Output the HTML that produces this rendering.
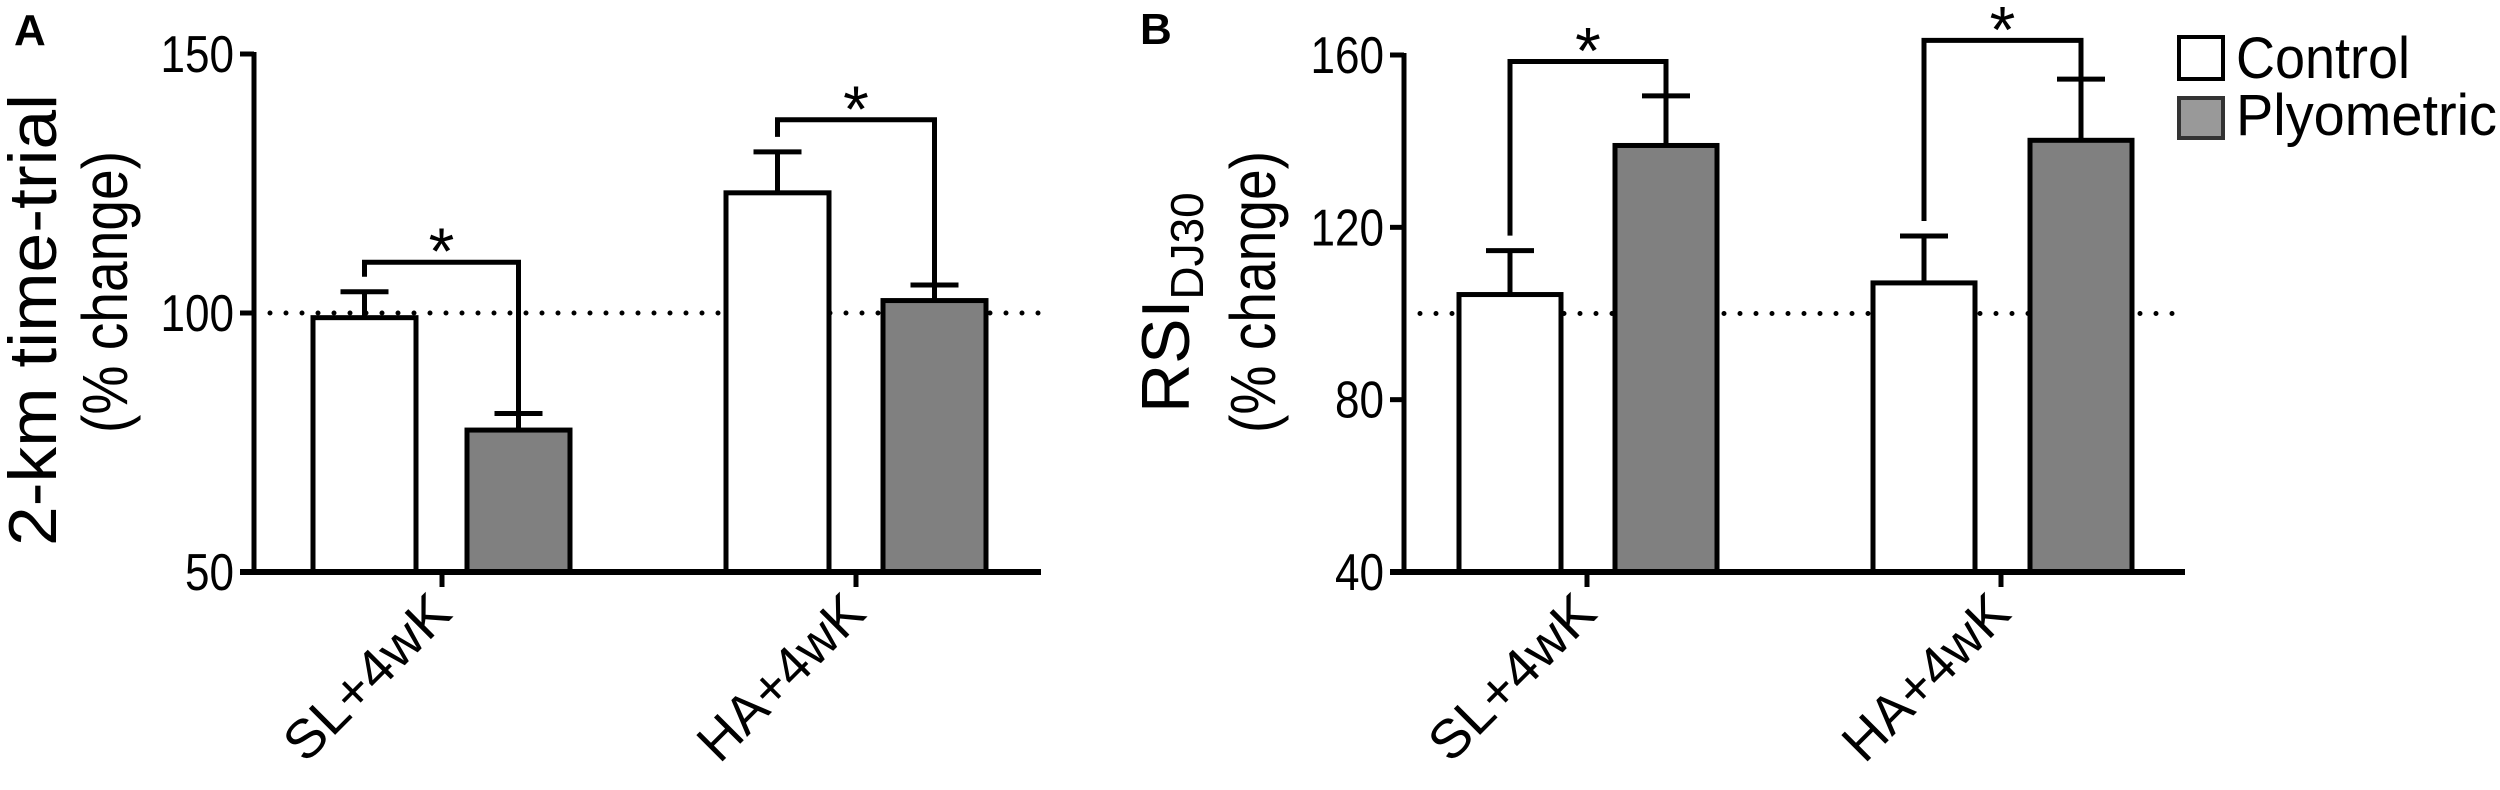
<!DOCTYPE html>
<html><head><meta charset="utf-8"><style>
html,body{margin:0;padding:0;background:#fff;}
svg{display:block;font-family:"Liberation Sans",sans-serif;}
</style></head><body>
<svg id="chart" width="2500" height="790" viewBox="0 0 2500 790" xmlns="http://www.w3.org/2000/svg">
<text x="14" y="45" font-size="44" font-weight="bold">A</text>
<text x="1140" y="44" font-size="44" font-weight="bold">B</text>
<text transform="translate(56,320) rotate(-90)" text-anchor="middle" font-size="68" textLength="452" lengthAdjust="spacingAndGlyphs">2-km time-trial</text>
<text transform="translate(127,292) rotate(-90)" text-anchor="middle" font-size="64" textLength="282" lengthAdjust="spacingAndGlyphs">(% change)</text>
<text transform="translate(1189,413) rotate(-90)" font-size="68">RSI<tspan font-size="46" dy="14">DJ30</tspan></text>
<text transform="translate(1275,292) rotate(-90)" text-anchor="middle" font-size="64" textLength="282" lengthAdjust="spacingAndGlyphs">(% change)</text>
<g>
<rect x="2179" y="37" width="44" height="42" fill="#fff" stroke="#000" stroke-width="4"/>
<text x="2236" y="78" font-size="58" textLength="174" lengthAdjust="spacingAndGlyphs">Control</text>
<rect x="2179" y="98" width="44" height="40" fill="#999" stroke="#333" stroke-width="4"/>
<text x="2236" y="135" font-size="58" textLength="261" lengthAdjust="spacingAndGlyphs">Plyometric</text>
</g>
<g id="pa"></g><g id="pb"></g>
</svg>
<script>
const categories = ["SL+4wK", "HA+4wK"];
const aControl = [99.1, 123.2];
const aControlErr = [5.0, 7.9];
const aPlyo = [77.4, 102.4];
const aPlyoErr = [3.2, 3.0];
const aTicks = [50, 100, 150];
const aBracket = [109.8, 137.3];
const bControl = [104.4, 107.1];
const bControlErr = [10.2, 10.9];
const bPlyo = [139.0, 140.2];
const bPlyoErr = [11.5, 14.2];
const bTicks = [40, 80, 120, 160];
const bBracket = [158.5, 163.4];

const NS = "http://www.w3.org/2000/svg";
function mk(parent, tag, attrs) {
  const e = document.createElementNS(NS, tag);
  for (const k in attrs) e.setAttribute(k, attrs[k]);
  parent.appendChild(e);
  return e;
}
function panel(g, cfg) {
  const y = v => cfg.y0 - (v - cfg.vmin) / (cfg.vmax - cfg.vmin) * (cfg.y0 - cfg.y1);
  const ax = cfg.ax;
  const ref = mk(g, "line", {x1: ax, x2: cfg.xend, y1: y(100), y2: y(100), stroke: "#000", "stroke-width": 5, "stroke-dasharray": "0 16", "stroke-linecap": "round"});
  
  
  categories.forEach((c, i) => {
    const cx = cfg.ctrlX[i], px = cfg.plyoX[i], w = cfg.bw;
    const series = [[cx, cfg.ctrl[i], cfg.ctrlErr[i], "#fff", "control"], [px, cfg.plyo[i], cfg.plyoErr[i], "#808080", "plyometric"]];
    series.forEach(([x, v, e, fill, nm]) => {
      const mid = x + w / 2;
      const el = mk(g, "line", {x1: mid, x2: mid, y1: y(v), y2: y(v + e), stroke: "#000", "stroke-width": 5});
      
      
      const cap = mk(g, "line", {x1: mid - 24, x2: mid + 24, y1: y(v + e), y2: y(v + e), stroke: "#000", "stroke-width": 5});
      
      
      const r = mk(g, "rect", {x: x, y: y(v), width: w, height: y(cfg.vmin) - y(v), fill: fill, stroke: "#000", "stroke-width": 5});
      
      
    });
    const bl = cx + w / 2, br = px + w / 2, by = y(cfg.bracket[i]);
    const lb = y(cfg.ctrl[i] + cfg.ctrlErr[i]) - 15, rb = y(cfg.plyo[i] + cfg.plyoErr[i]) - 2;
    const pl = mk(g, "polyline", {points: `${bl},${lb} ${bl},${by} ${br},${by} ${br},${rb}`, fill: "none", stroke: "#000", "stroke-width": 5});
    
    
    const st = mk(g, "text", {x: (bl + br) / 2, y: by + 12, "text-anchor": "middle", "font-size": 66});
    st.textContent = "*";
    
    
    const tx = cfg.tickX[i];
    const t = mk(g, "line", {x1: tx, x2: tx, y1: cfg.y0, y2: cfg.y0 + 15, stroke: "#000", "stroke-width": 5});
    
    
    const lab = mk(g, "text", {transform: `translate(${tx + 12},${cfg.y0 + 44}) rotate(-45)`, "text-anchor": "end", "font-size": 54, textLength: 210, lengthAdjust: "spacingAndGlyphs"});
    lab.textContent = c;
    
    
  });
  const ya = mk(g, "line", {x1: ax, x2: ax, y1: y(cfg.vmax) - 2, y2: y(cfg.vmin) + 2, stroke: "#000", "stroke-width": 5});
  
  
  const xa = mk(g, "line", {x1: ax - 14, x2: cfg.xend, y1: cfg.y0, y2: cfg.y0, stroke: "#000", "stroke-width": 6});
  
  
  cfg.ticks.forEach(v => {
    const tk = mk(g, "line", {x1: ax - 14, x2: ax, y1: y(v), y2: y(v), stroke: "#000", "stroke-width": 5});
    
    
    const s = String(v);
    const tl = mk(g, "text", {x: ax - 20, y: y(v) + 18, "text-anchor": "end", "font-size": 52, textLength: s.length * 24.5, lengthAdjust: "spacingAndGlyphs"});
    tl.textContent = s;
    
    
  });
}
const pa = document.getElementById("pa");


panel(pa, {ax: 254, xend: 1041, y0: 572, y1: 54, vmin: 50, vmax: 150, bw: 103,
  ctrlX: [313, 726], plyoX: [467, 883], tickX: [442, 856],
  ctrl: aControl, ctrlErr: aControlErr, plyo: aPlyo, plyoErr: aPlyoErr, ticks: aTicks, bracket: aBracket});
const pb = document.getElementById("pb");


panel(pb, {ax: 1404, xend: 2185, y0: 572, y1: 55, vmin: 40, vmax: 160, bw: 102,
  ctrlX: [1459, 1873], plyoX: [1615, 2030], tickX: [1587, 2001],
  ctrl: bControl, ctrlErr: bControlErr, plyo: bPlyo, plyoErr: bPlyoErr, ticks: bTicks, bracket: bBracket});
</script>
</body></html>
